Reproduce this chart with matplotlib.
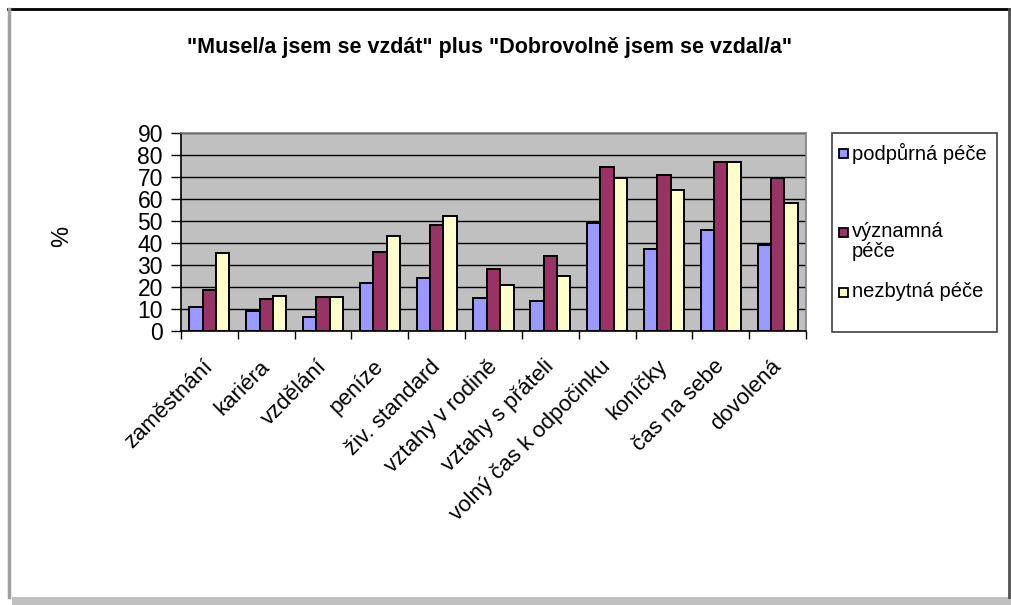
import numpy as np
import matplotlib.pyplot as plt
import matplotlib.transforms as mtrans
from matplotlib.patches import Rectangle

# --- Data ---

categories = ["zaměstnání", "kariéra", "vzdělání", "peníze", "živ. standard",
              "vztahy v rodině", "vztahy s přáteli", "volný čas k odpočinku",
              "koníčky", "čas na sebe", "dovolená"]

podpurna  = [11, 9, 6.5, 22, 24, 15, 13.5, 49, 37.5, 46, 39]
vyznamna  = [18.5, 14.5, 15.5, 36, 48, 28, 34, 74.5, 71, 77, 69.5]
nezbytna  = [35.5, 16, 15.5, 43, 52.5, 21, 25, 69.5, 64, 77, 58]

series_names  = ["podpůrná péče", "významná\npéče", "nezbytná péče"]
series_colors = ["#9999FF", "#993366", "#FFFFCC"]

title = '"Musel/a jsem se vzdát" plus "Dobrovolně jsem se vzdal/a"'

plt.rcParams["font.family"] = ["Liberation Sans", "DejaVu Sans"]

W, H = 1012, 605
fig = plt.figure(figsize=(W / 100, H / 100), dpi=100)
fig.patch.set_facecolor("white")

def fx(px):
    return px / W

def fy(py):
    return 1 - py / H

# plot area
ax = fig.add_axes([fx(181), fy(331), fx(806) - fx(181), fy(133) - fy(331)])
ax.set_facecolor("#C0C0C0")

x = np.arange(len(categories))
bw = 0.235
for i, (vals, col) in enumerate(zip([podpurna, vyznamna, nezbytna], series_colors)):
    ax.bar(x + (i - 1) * bw, vals, width=bw, color=col, edgecolor="black",
           linewidth=1.4, zorder=3)

ax.set_xlim(-0.5, len(categories) - 0.5)
ax.set_ylim(0, 90)
ax.set_yticks(range(0, 91, 10))
ax.yaxis.grid(True, color="black", linewidth=1.0, zorder=1)
ax.set_axisbelow(True)

# category ticks between groups, labels at the centres
ax.set_xticks(np.arange(len(categories) + 1) - 0.5)
ax.set_xticklabels([])
ax.set_xticks(x, minor=True)
ax.set_xticklabels(categories, minor=True, rotation=45, ha="right", fontsize=16)
ax.tick_params(axis="x", which="minor", length=0, pad=18)
ax.tick_params(axis="x", which="major", length=6, width=1, color="black")
ax.tick_params(axis="y", length=7, width=1, labelsize=16.5, pad=6)

# nudge the slanted labels a little to the right, as in the original
shift = mtrans.ScaledTranslation(8 / 100, 0, fig.dpi_scale_trans)
for lab in ax.get_xticklabels(minor=True):
    lab.set_transform(lab.get_transform() + shift)

for side in ["left", "bottom"]:
    ax.spines[side].set_color("black")
    ax.spines[side].set_linewidth(1.2)
for side in ["top", "right"]:
    ax.spines[side].set_color("#808080")
    ax.spines[side].set_linewidth(1.2)

fig.text(fx(62), fy(236), "%", rotation=90, ha="center", va="center", fontsize=17)

fig.text(fx(490), fy(48), title, ha="center", va="center", fontsize=15.5,
         fontweight="bold")

# legend box, keys and labels
fig.patches.append(Rectangle((fx(832), fy(332)), fx(997) - fx(832), fy(133) - fy(332),
                             transform=fig.transFigure, facecolor="white",
                             edgecolor="#404040", linewidth=1.2))
legend_rows = [153, 232, 292]
for name, col, row in zip(series_names, series_colors, legend_rows):
    fig.patches.append(Rectangle((fx(839), fy(row + 5)), fx(9), 9 / H,
                                 transform=fig.transFigure, facecolor=col,
                                 edgecolor="black", linewidth=1.3))
    fig.text(fx(852), fy(row - 10), name, ha="left", va="top", fontsize=14.5,
             linespacing=1.05)

# outer frame of the chart
fig.patches.append(Rectangle((fx(12), 0), 1 - fx(12), fy(597), transform=fig.transFigure,
                             facecolor="#C0C0C0", edgecolor="none"))
fig.lines.append(plt.Line2D([fx(8), fx(1010)], [fy(9), fy(9)], transform=fig.transFigure,
                            color="black", linewidth=2))
fig.lines.append(plt.Line2D([fx(9), fx(9)], [fy(9), fy(597)], transform=fig.transFigure,
                            color="#A0A0A0", linewidth=2.5))
fig.lines.append(plt.Line2D([fx(1009), fx(1009)], [fy(9), fy(597)], transform=fig.transFigure,
                            color="#505050", linewidth=2))

fig.savefig("out.png", dpi=100, facecolor="white")
